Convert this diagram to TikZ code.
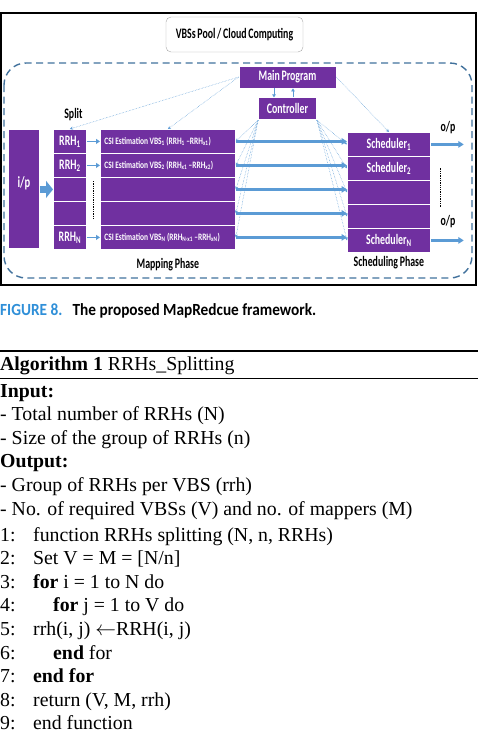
\documentclass[tikz,border=0pt]{standalone}
\usepackage{fontspec}
\setmainfont{Liberation Serif}
\newfontfamily\diagfont[FakeStretch=0.68,WordSpace=0.75]{Carlito}
\newfontfamily\cellfont[FakeStretch=0.76,WordSpace=0.85]{Carlito}
\newfontfamily\capfont[FakeStretch=0.9]{Carlito}
\usepackage{tikz}
\usetikzlibrary{arrows.meta,positioning,calc}
\definecolor{mapviolet}{HTML}{7030A0}
\definecolor{flowblue}{HTML}{5B9BD5}
\definecolor{edgeblue}{HTML}{41719C}
\definecolor{capblue}{HTML}{2F8FD8}

\begin{document}
\begin{tikzpicture}[x=1pt,y=-1pt,every node/.style={font=\diagfont\bfseries\fontsize{14.5}{16}\selectfont,inner sep=1pt},cell/.style={draw=white,line width=0.8pt,fill=mapviolet,text=white,minimum height=24pt,inner sep=0pt},csi/.style={cell,minimum width=135pt,font=\cellfont\bfseries\fontsize{9.8}{11}\selectfont},flow/.style={-{Triangle[length=5.5pt,width=6.5pt]},line width=2.3pt,flowblue},hint/.style={-{Stealth[length=3pt,width=3pt]},densely dotted,flowblue,line width=0.5pt},algline/.style={anchor=base west,inner sep=0pt,font=\fontsize{19.8}{23}\selectfont}]
\useasboundingbox (0,0) rectangle (488,734);
% frame, pool and cloud area
\draw[line width=1.6pt] (0.8,13) rectangle (476,285);
\node[draw=black!35,rounded corners=5pt,minimum width=137pt,minimum height=35pt] (pool) at (234.5,34.5) {VBSs Pool / Cloud Computing};
\draw[edgeblue,line width=1.4pt,dash pattern=on 7pt off 4.5pt,rounded corners=22pt] (4,63) rectangle (472,278);
% control
\node[cell,minimum width=97pt,minimum height=22pt] (main) at (287.5,77) {Main Program};
\node[cell,minimum width=58pt,minimum height=22pt,below=9pt of main] (ctrl) {Controller};
\draw[flowblue,line width=0.8pt,-{Triangle[length=3pt,width=3.5pt]}] ([xshift=-13.5pt]main.south) -- ([xshift=-13.5pt]main.south |- ctrl.north);
\draw[flowblue,line width=0.8pt,-{Triangle[length=3pt,width=3.5pt]}] ([xshift=5.5pt]main.south |- ctrl.north) -- ([xshift=5.5pt]main.south);
% columns
\node[cell,anchor=north west,minimum width=31pt,minimum height=119pt,font=\diagfont\bfseries\fontsize{15.5}{17}\selectfont] (ip) at (8,129) {\raisebox{13pt}{i/p}};
\foreach \i/\t in {1/RRH\textsubscript{1},2/RRH\textsubscript{2},3/,4/,5/RRH\textsubscript{N}}
  \node[cell,anchor=north west,minimum width=33pt] (rrh\i) at (53,{129+24*(\i-1)}) {\t};
\foreach \i/\t in {1/{CSI Estimation VBS\textsubscript{1} (RRH\textsubscript{1} –RRH\textsubscript{x1})},2/{CSI Estimation VBS\textsubscript{2} (RRH\textsubscript{x1} –RRH\textsubscript{x2})},3/,4/,5/{CSI Estimation VBS\textsubscript{N} (RRH\textsubscript{N-x1} –RRH\textsubscript{xN})}}
  \node[csi,anchor=north west] (csi\i) at (100,{129+24*(\i-1)}) {\makebox[127pt][l]{\t}};
\foreach \i/\t in {1/Scheduler\textsubscript{1},2/Scheduler\textsubscript{2},3/,4/,5/Scheduler\textsubscript{N}}
  \node[cell,anchor=north west,minimum width=83pt] (sched\i) at (347,{132+24*(\i-1)}) {\t};
% data flow
\draw[flowblue,line width=7pt,-{Triangle[length=7pt,width=17pt]}] (ip.east |- rrh3.west) -- (rrh3.west);
\foreach \i in {1,2,5}
  \draw[flowblue,line width=1.5pt,-{Triangle[length=4pt,width=5pt]}] (rrh\i) -- (csi\i);
\foreach \i in {1,...,5}
  \draw[flow] (csi\i.east) -- (csi\i.east -| sched\i.west);
\coordinate[right=33pt of sched1.east] (op1);
\coordinate[right=33pt of sched5.east] (op5);
\draw[flow] (sched1.east) -- (op1);
\draw[flow] (sched5.east) -- (op5);
% control hints
\draw[hint] (main.west) -- (rrh1.north);
\draw[hint] (main.west) -- (csi1.north);
\draw[hint] (main.east) -- (sched1.north);
\foreach \i in {1,...,5} {
  \draw[hint] (ctrl.south west) -- (csi\i.east);
  \draw[hint] (ctrl.south east) -- (sched\i.west);
}
\draw[densely dotted,line width=1.3pt,shorten <=4pt,shorten >=7pt] ($(rrh3.north east)!.5!(csi3.north west)$) -- ($(rrh4.south east)!.5!(csi4.south west)$);
\draw[densely dotted,line width=1.3pt,shorten >=9pt] ([xshift=10pt]sched2.east) -- ([xshift=10pt]sched4.east);
% labels
\node[above=7pt of rrh1,xshift=3.5pt] (split) {Split};
\node[below=7pt of csi5] (mapph) {Mapping Phase};
\node[below=2pt of sched5] (schedph) {Scheduling Phase};
\node (optop) at (448,128) {o/p};
\node (opbot) at (448,222) {o/p};
\node[anchor=base west,inner sep=0pt,font=\capfont\bfseries\fontsize{17}{19}\selectfont] (caption) at (0,315) {\textcolor{capblue}{FIGURE 8.}\hspace{0.6em}The proposed MapRedcue framework.};
% algorithm
\draw[line width=1.1pt] (0,351) -- (478,351);
\draw[line width=0.7pt] (0,378) -- (478,378);
\node[algline] (algtitle) at (0,370) {\textbf{Algorithm 1} RRHs\_Splitting};
\foreach \t [count=\k] in {\textbf{Input:},{- Total number of RRHs (N)},{- Size of the group of RRHs (n)},\textbf{Output:},{- Group of RRHs per VBS (rrh)},{- No. of required VBSs (V) and no. of mappers (M)}}
  \node[algline] (algio\k) at (0,{397+23.6*(\k-1)}) {\t};
\foreach \d/\t [count=\k] in {33/{function RRHs splitting (N, n, RRHs)},33/{Set V = M = [N/n]},33/{\textbf{for} i = 1 to N do},53/{\textbf{for} j = 1 to V do},33/{rrh(i, j) $\leftarrow$RRH(i, j)},53/{\textbf{end} for},33/{\textbf{end for}},33/{return (V, M, rrh)},33/{end function}} {
  \node[algline] (algnum\k) at (0,{541+23.6*(\k-1)}) {\k:};
  \node[algline] (algtext\k) at (\d,{541+23.6*(\k-1)}) {\t};
}
\end{tikzpicture}
\end{document}
